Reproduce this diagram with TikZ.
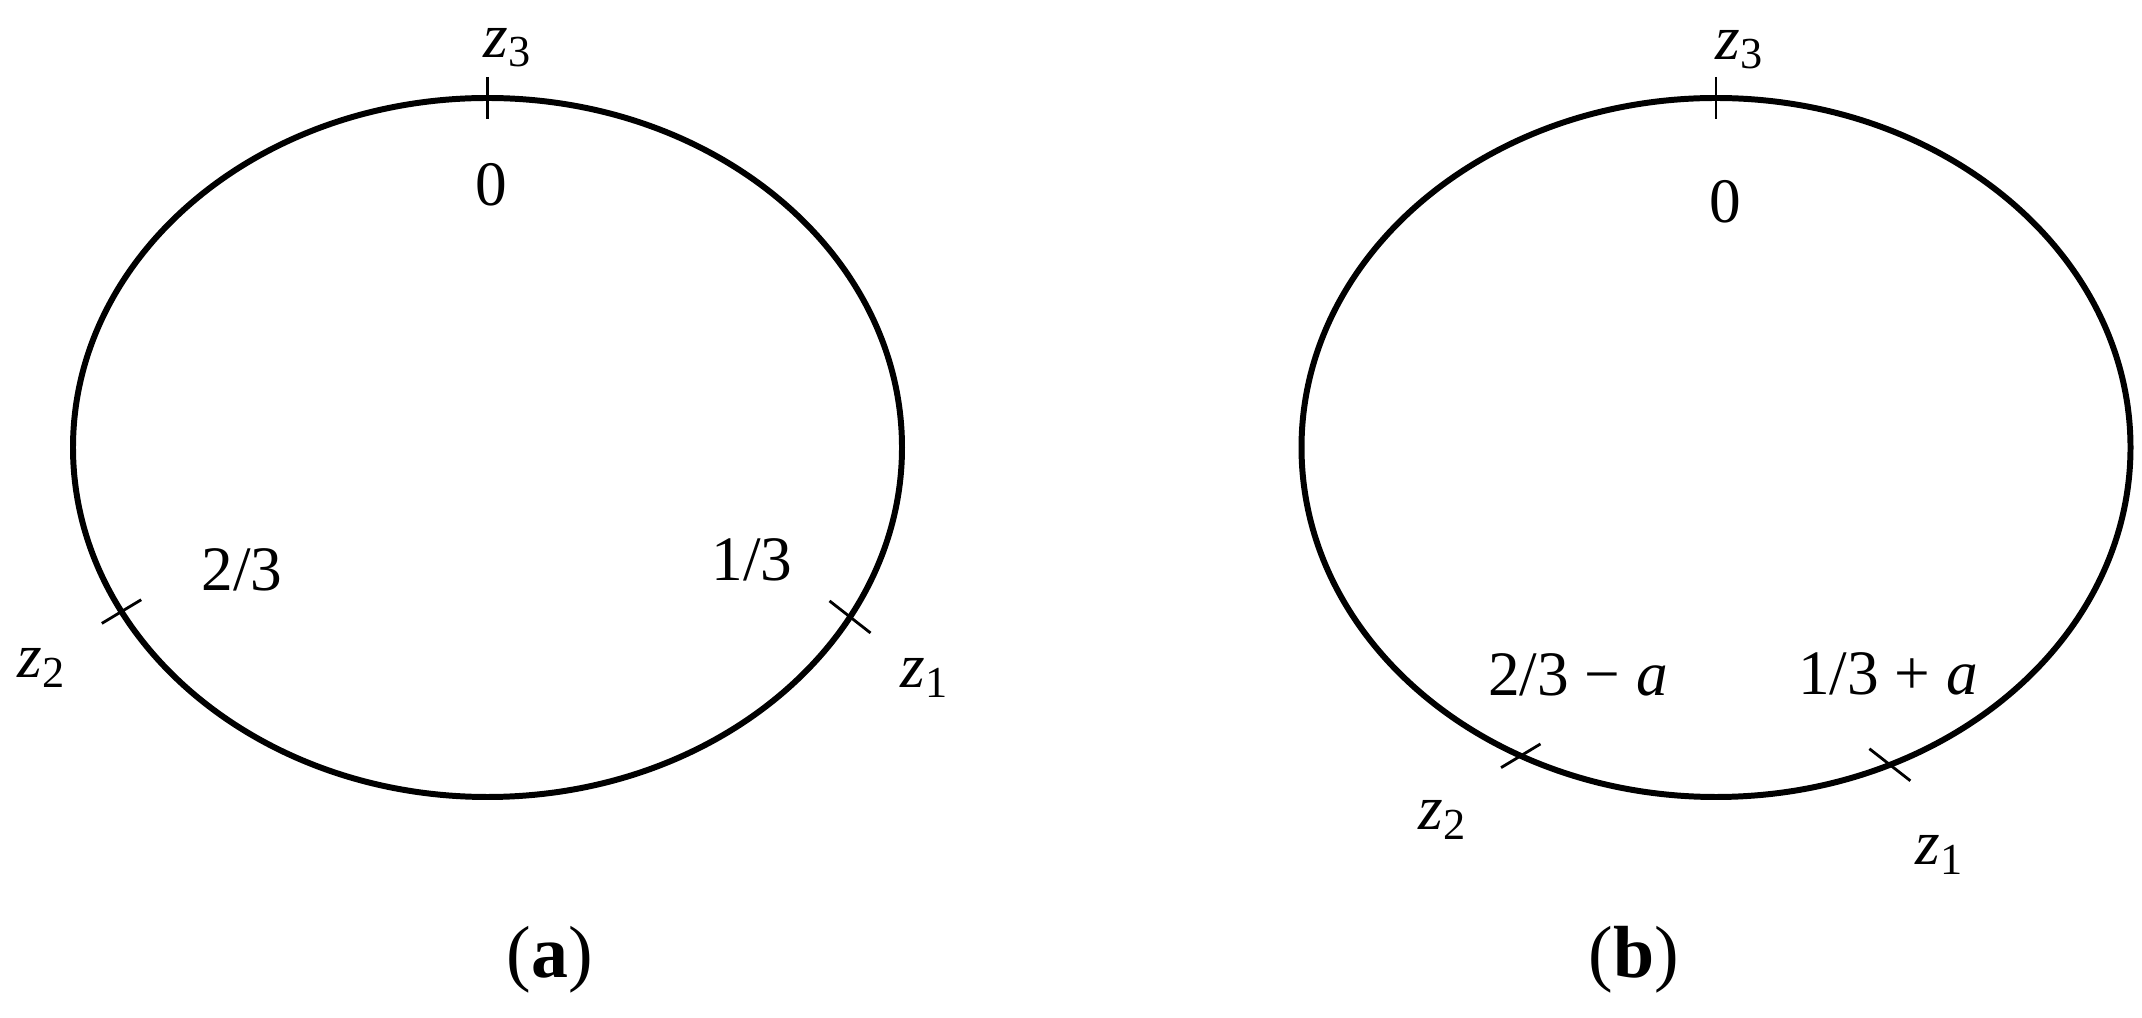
\documentclass[tikz,border=0pt]{standalone}
\usepackage{fontspec}
\setmainfont{Liberation Serif}

\begin{document}
\begin{tikzpicture}[x=0.01cm, y=0.01cm,
    rim/.style={line width=1.7pt},
    tickmark/.style={line width=0.8pt},
    lab/.style={inner sep=0pt, font=\fontsize{18}{21}\selectfont},
    capt/.style={inner sep=0pt, font=\fontsize{21}{25}\selectfont}]
    \useasboundingbox (0,0) rectangle (2142,1018);

    % Left ellipse (a)
    \coordinate (cA) at (487.5,570.5);
    \draw[rim] (cA) ellipse (414.5 and 349.5);
    \path (cA) ++(90:414.5 and 349.5) coordinate (zA3);
    \path (cA) ++(331:414.5 and 349.5) coordinate (zA1);
    \path (cA) ++(208:414.5 and 349.5) coordinate (zA2);

    % Ticks on (a)
    \draw[tickmark] (zA3) +(0,21) -- +(0,-21);
    \draw[tickmark] (zA1) +(142:26) -- +(322:26);
    \draw[tickmark] (zA2) +(211:23) -- +(31:23);

    % Labels of (a)
    \node[lab] (zA3lab) at (508,970) {\textit{z}\textsubscript{3}};
    \node[lab] (sA0) at (491,833) {0};
    \node[lab] (sA1) at (752,458) {1/3};
    \node[lab] (sA2) at (242,448) {2/3};
    \node[lab] (zA1lab) at (925,340) {\textit{z}\textsubscript{1}};
    \node[lab] (zA2lab) at (42,350) {\textit{z}\textsubscript{2}};
    \node[capt] (capA) at (550,58) {(\textbf{a})};

    % Right ellipse (b)
    \coordinate (cB) at (1716,570.5);
    \draw[rim] (cB) ellipse (414.5 and 349.5);
    \path (cB) ++(90:414.5 and 349.5) coordinate (zB3);
    \path (cB) ++(294.8:414.5 and 349.5) coordinate (zB1);
    \path (cB) ++(241.9:414.5 and 349.5) coordinate (zB2);

    % Ticks on (b)
    \draw[tickmark] (zB3) +(0,21) -- +(0,-21);
    \draw[tickmark] (zB1) +(142:26) -- +(322:26);
    \draw[tickmark] (zB2) +(211:23) -- +(31:23);

    % Labels of (b)
    \node[lab] (zB3lab) at (1740,968) {\textit{z}\textsubscript{3}};
    \node[lab] (sB0) at (1725,816) {0};
    \node[lab] (sB1) at (1888,344) {1/3 + \textit{a}};
    \node[lab] (sB2) at (1578,343) {2/3 − \textit{a}};
    \node[lab] (zB1lab) at (1940,163) {\textit{z}\textsubscript{1}};
    \node[lab] (zB2lab) at (1443,198) {\textit{z}\textsubscript{2}};
    \node[capt] (capB) at (1634,58) {(\textbf{b})};
\end{tikzpicture}
\end{document}
